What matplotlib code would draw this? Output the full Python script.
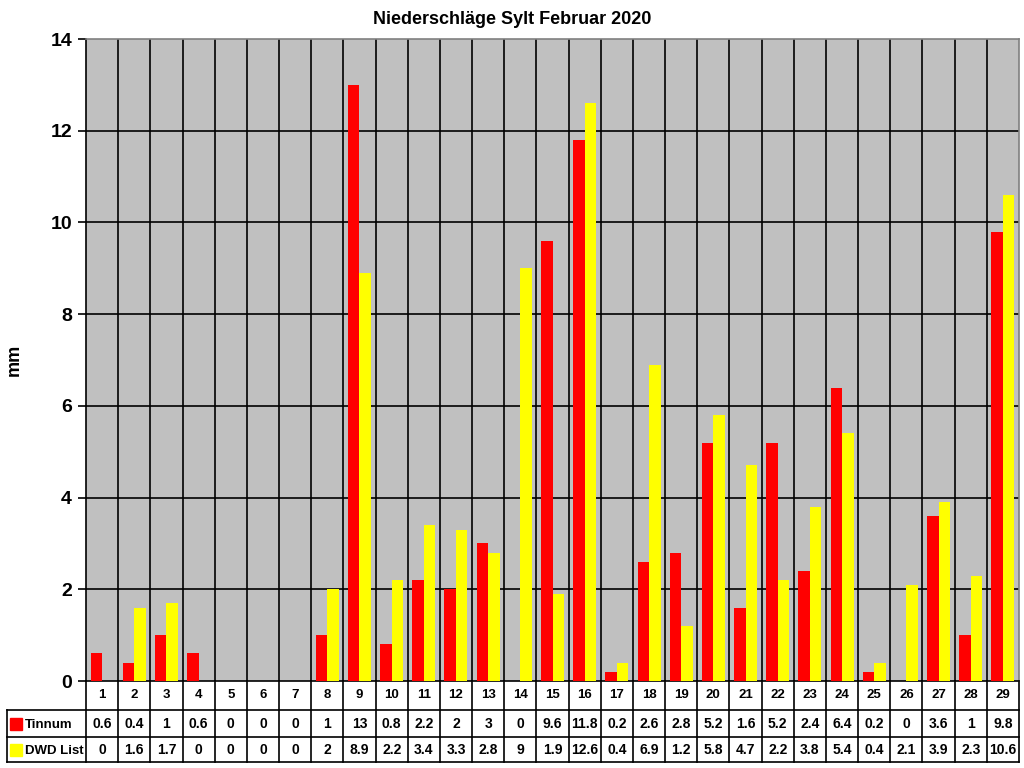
import numpy as np
import matplotlib
matplotlib.use('Agg')
import matplotlib.pyplot as plt
from matplotlib.lines import Line2D
from matplotlib.patches import Rectangle
from matplotlib.transforms import blended_transform_factory

plt.rcParams['font.family'] = ['Liberation Sans', 'DejaVu Sans']
plt.rcParams['font.weight'] = 'bold'

days = list(range(1, 30))
tinnum = [0.6, 0.4, 1, 0.6, 0, 0, 0, 1, 13, 0.8, 2.2, 2, 3, 0, 9.6, 11.8, 0.2,
          2.6, 2.8, 5.2, 1.6, 5.2, 2.4, 6.4, 0.2, 0, 3.6, 1, 9.8]
dwd = [0, 1.6, 1.7, 0, 0, 0, 0, 2, 8.9, 2.2, 3.4, 3.3, 2.8, 9, 1.9, 12.6, 0.4,
       6.9, 1.2, 5.8, 4.7, 2.2, 3.8, 5.4, 0.4, 2.1, 3.9, 2.3, 10.6]
series_names = ['Tinnum', 'DWD List']
series_colors = ['#FF0000', '#FFFF00']
title = 'Niederschläge Sylt Februar 2020'

W, H = 1024, 768
fig = plt.figure(figsize=(W / 100, H / 100), dpi=100)
# plot area in pixels
L, R, T, B = 86, 1019, 39, 681
ax = fig.add_axes([L / W, 1 - B / H, (R - L) / W, (B - T) / H])
ax.set_facecolor('#C0C0C0')

x = np.array(days)
bw = 0.357
ax.bar(x - bw / 2, tinnum, bw, color=series_colors[0], zorder=3)
ax.bar(x + bw / 2, dwd, bw, color=series_colors[1], zorder=3)

ax.set_xlim(0.5, len(days) + 0.5)
ax.set_ylim(0, 14)
ax.set_yticks(range(0, 15, 2))
ax.set_xticks([])
for yv in range(2, 14, 2):
    ax.axhline(yv, color='black', lw=1.2, zorder=2)
for xv in x[:-1] + 0.5:
    ax.axvline(xv, color='black', lw=1.2, zorder=2)

ax.tick_params(axis='y', direction='out', length=6, width=1.2, labelsize=14, pad=4)
for lab in ax.get_yticklabels():
    lab.set_fontweight('bold')
ax.spines['top'].set_color('#808080')
ax.spines['right'].set_color('#808080')
ax.spines['left'].set_color('black')
ax.spines['bottom'].set_color('black')
for s in ax.spines.values():
    s.set_linewidth(1.2)

ax.set_ylabel('mm', fontsize=13, fontweight='bold')
ax.yaxis.set_label_coords(-0.0675, 0.5)
fig.text(0.5, 1 - 20 / H, title, ha='center', va='center', fontsize=13, fontweight='bold')

# data table below the axis
ph = B - T
def ay(py):
    return -(py - B) / ph

def axx(px):
    return (px - L) / (R - L)

bt = blended_transform_factory(ax.transData, ax.transAxes)
row_lines = [710, 737, 762]
for py in row_lines:
    ax.add_line(Line2D([axx(7), 1], [ay(py), ay(py)], transform=ax.transAxes,
                       color='black', lw=1.2, clip_on=False))
for xv in np.concatenate([[0.5], x + 0.5]):
    ax.add_line(Line2D([xv, xv], [0, ay(762)], transform=bt,
                       color='black', lw=1.2, clip_on=False))
ax.add_line(Line2D([axx(7), axx(7)], [ay(710), ay(762)], transform=ax.transAxes,
                   color='black', lw=1.2, clip_on=False))

def fmt(v):
    return ('%g' % v)

for d in days:
    ax.text(d, ay(695.5), str(d), transform=bt, ha='center', va='center',
            fontsize=9.5, fontweight='bold', clip_on=False)
rows = [tinnum, dwd]
centers = [723.5, 749.5]
for vals, cy, name, col in zip(rows, centers, series_names, series_colors):
    for d, v in zip(days, vals):
        ax.text(d, ay(cy), fmt(v), transform=bt, ha='center', va='center',
                fontsize=10, fontweight='bold', clip_on=False)
    fig.patches.append(Rectangle((10 / W, 1 - (cy + 6) / H), 12 / W, 12 / H,
                                 transform=fig.transFigure, color=col))
    fig.text(25 / W, 1 - (cy + 2) / H, name, ha='left', va='center',
             fontsize=9.5, fontweight='bold')

fig.savefig('out.png', dpi=100)
